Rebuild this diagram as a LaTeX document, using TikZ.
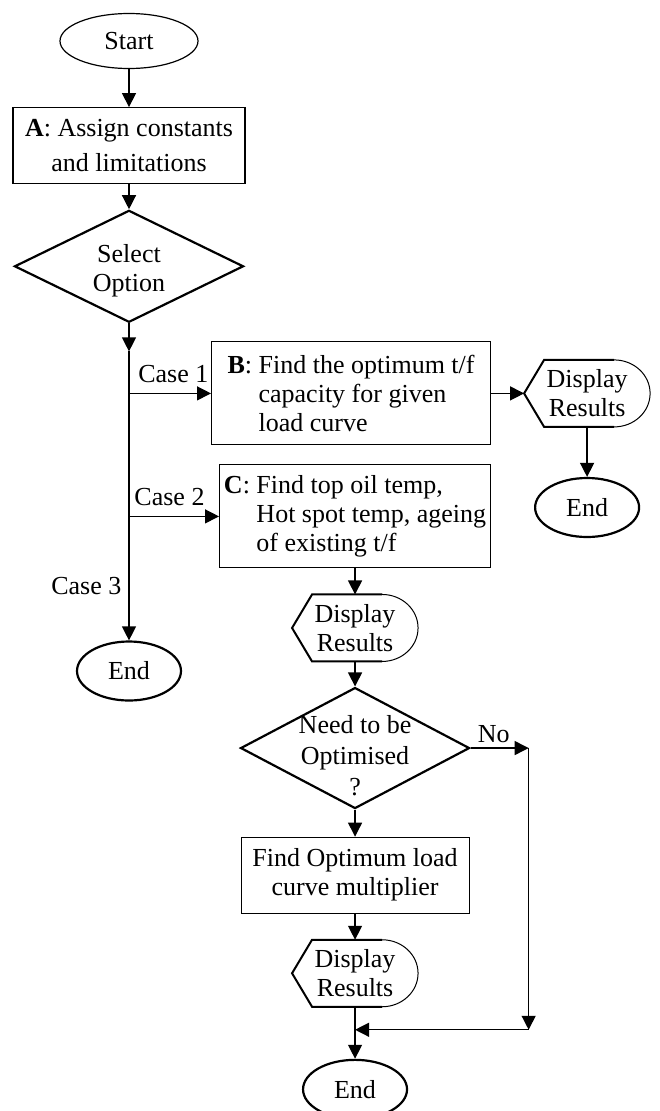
\documentclass[tikz,border=0pt]{standalone}
\usepackage{fontspec}
\setmainfont{Liberation Serif}
\usetikzlibrary{positioning, arrows.meta, shapes.geometric}

% text that does not size the diamond; #1 lowers it
\newcommand{\flattext}[2][0pt]{\makebox[0pt]{\raisebox{#1}[0pt][0pt]{\begin{tabular}{@{}c@{}}#2\end{tabular}}}}
\newcommand{\displayframe}[1]{%
  \draw [line width=2pt] ([xshift=-36pt]#1.north east) -- ([xshift=20pt]#1.north west) -- (#1.west)
        -- ([xshift=20pt]#1.south west) -- ([xshift=-36pt]#1.south east);
  \draw [line width=1pt] ([xshift=-36pt]#1.north east) arc [start angle=90, end angle=-90, x radius=36pt, y radius=33.5pt];}

\begin{document}
\begin{tikzpicture}[x=1pt, y=1pt, >={Triangle[length=14pt, width=14pt]}, line width=1.3pt,
        font=\fontsize{26}{29}\selectfont, inner sep=2pt,
        junction/.style = {coordinate},
        startnode/.style = {draw, ellipse, line width=1.2pt, minimum width=138pt, minimum height=55pt, inner sep=0pt},
        endnode/.style = {draw, ellipse, line width=2.2pt, minimum width=104pt, minimum height=59pt, inner sep=0pt},
        block/.style = {draw, rectangle, line width=1.1pt, align=center},
        decision/.style = {draw, diamond, line width=2.2pt, minimum width=229pt, inner sep=0pt},
        outbox/.style = {rectangle, align=center, minimum width=126pt, minimum height=67pt, inner sep=0pt, outer sep=0pt},
        ]
        \useasboundingbox (0,0) rectangle (659,-1111);

        \node [startnode] (start) at (129,-41) {Start};
        \node [block, below=38pt of start, minimum width=232pt, minimum height=76pt] (assign) {\textbf{A}: Assign constants\\[6pt]and limitations};
        \node [decision, below=25pt of assign, minimum height=112pt] (select) {\flattext[-11pt]{Select\\Option}};
        \node [junction, below=28pt of select] (split) {};
        \node [junction, below=42pt of split] (case1) {};
        \node [junction, below=123pt of case1] (case2) {};
        \node [endnode, below=289pt of split] (end1) {End};

        \node [block, align=left, right=82pt of case1, minimum width=279pt, minimum height=103pt] (optcap)
            {\textbf{B}: Find the optimum t/f\\\phantom{\textbf{B}: }capacity for given\\\phantom{\textbf{B}: }load curve};
        \node [outbox, right=33pt of optcap] (showB) {Display\\Results};
        \node [endnode, below=50pt of showB] (endB) {End};

        \node [block, align=left, right=90pt of case2, minimum width=271pt, minimum height=103pt] (oiltemp)
            {\textbf{C}: Find top oil temp,\\\phantom{\textbf{C}: }Hot spot temp, ageing\\\phantom{\textbf{C}: }of existing t/f};
        \node [outbox, below=26pt of oiltemp] (showC) {Display\\Results};
        \node [decision, below=25pt of showC, minimum height=121pt] (optq) {\flattext[-17pt]{Need to be\\[2pt]Optimised\\[2pt]?}};
        \node [block, below=27pt of optq, minimum width=228pt, minimum height=76pt] (mult) {Find Optimum load\\curve multiplier};
        \node [outbox, below=26pt of mult] (showM) {Display\\Results};
        \node [junction, below=23pt of showM] (merge) {};
        \node [endnode, below=29pt of merge] (end2) {End};
        \node [junction, right=58pt of optq] (noright) {};
        \node [junction] (nodown) at (noright |- merge) {};

        \foreach \d in {showB, showC, showM} {\displayframe{\d}}

        \draw [->] (start) -- (assign);
        \draw [->] (assign) -- (select);
        \draw [->] (select) -- (split);
        \draw (split) -- (case1) -- (case2);
        \draw [->] (case2) -- node[left=5pt, pos=0.56] {Case 3} (end1);
        \draw [->] (case1) -- node[above=8pt, pos=0.54] {Case 1} (optcap);
        \draw [->] (case2) -- node[above=8pt, pos=0.45] {Case 2} (oiltemp);
        \draw [->] (optcap) -- (showB);
        \draw [->] (showB) -- (endB);
        \draw [->] (oiltemp) -- (showC);
        \draw [->] (showC) -- (optq);
        \draw [->] (optq) -- node[above=3pt, pos=0.4] {No} (noright);
        \draw [->] (noright) -- (nodown);
        \draw [->] (nodown) -- (merge);
        \draw [->] (optq) -- (mult);
        \draw [->] (mult) -- (showM);
        \draw [->] (showM) -- (end2);
\end{tikzpicture}
\end{document}
